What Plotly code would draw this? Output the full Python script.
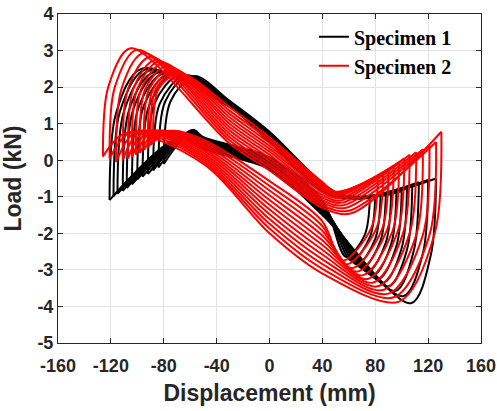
import plotly.graph_objects as go

# ---------------- Specimen 1 (black) : key points of each loop ----------------
s1_tipneg_x = [-121, -118, -115, -111, -108, -104, -100, -96, -92, -88, -84, -80]
s1_tipneg_y = [-1.09, -0.98, -0.92, -0.84, -0.76, -0.66, -0.52, -0.45, -0.38, -0.28, -0.20, -0.10]
s1_rise_x = [-116, -113, -110, -106, -103, -99, -95, -91, -87, -83, -79, -75]
s1_rise_y = [1.30, 1.35, 1.35, 1.40, 1.40, 1.45, 1.50, 1.50, 1.55, 1.55, 1.60, 1.60]
s1_peak_x = [-97, -94, -91, -87, -84, -80, -76, -72, -68, -64, -61, -57]
s1_peak_y = [2.50, 2.48, 2.45, 2.42, 2.40, 2.38, 2.36, 2.35, 2.33, 2.32, 2.31, 2.30]
s1_up_m30 = [1.45, 1.47, 1.49, 1.50, 1.52, 1.53, 1.55, 1.56, 1.58, 1.59, 1.60, 1.62]
s1_up_0 = [0.50, 0.52, 0.55, 0.57, 0.60, 0.62, 0.65, 0.67, 0.70, 0.72, 0.75, 0.78]
s1_up_40 = [-0.85, -0.83, -0.81, -0.79, -0.77, -0.75, -0.73, -0.71, -0.69, -0.67, -0.65, -0.63]
s1_val_x = [70, 68, 66, 64, 62, 60, 60, 58, 57, 56, 55, 55]
s1_val_y = [-1.05, -1.05, -1.04, -1.03, -1.02, -1.01, -1.00, -0.99, -0.98, -0.97, -0.96, -0.95]
s1_tippos_x = [126, 120, 113, 108, 104, 100, 96, 92, 88, 84, 80, 76]
s1_tippos_y = [-0.50, -0.54, -0.60, -0.70, -0.78, -0.85, -0.90, -0.93, -0.96, -0.98, -1.00, -1.00]
s1_drop_x = [122, 116, 109, 104, 100, 96, 92, 88, 84, 80, 76, 72]
s1_drop_y = [-2.60, -2.55, -2.50, -2.45, -2.40, -2.35, -2.30, -2.25, -2.20, -2.15, -2.10, -2.05]
s1_min_x = [107, 101, 95, 90, 86, 82, 78, 74, 70, 66, 62, 58]
s1_min_y = [-3.91, -3.72, -3.58, -3.45, -3.35, -3.25, -3.15, -3.05, -2.95, -2.85, -2.75, -2.65]
s1_lo_40 = [-1.50, -1.46, -1.43, -1.39, -1.36, -1.32, -1.29, -1.25, -1.22, -1.18, -1.15, -1.10]
s1_lo_0 = [-0.25, -0.22, -0.19, -0.16, -0.13, -0.10, -0.07, -0.04, -0.01, 0.02, 0.05, 0.08]
s1_lo_m50 = [0.30, 0.33, 0.36, 0.39, 0.42, 0.45, 0.48, 0.51, 0.54, 0.57, 0.60, 0.63]
s1_hump_x = [-68, -67, -66, -65, -64, -63, -62, -61, -60, -60, -59, -58]
s1_hump_y = [0.62, 0.64, 0.66, 0.68, 0.70, 0.72, 0.74, 0.76, 0.78, 0.80, 0.82, 0.83]

# ---------------- Specimen 2 (red) : key points of each loop ----------------
s2_tipneg_x = [-126, -121, -116, -111, -107, -104, -101, -98, -95, -92, -90, -88]
s2_tipneg_y = [0.10, 0.05, -0.05, 0.00, 0.05, 0.10, 0.15, 0.20, 0.28, 0.35, 0.42, 0.50]
s2_rise_x = [-122, -117, -112, -107, -103, -100, -97, -94, -91, -88, -86, -84]
s2_rise_y = [2.00, 2.00, 1.95, 1.95, 1.95, 1.95, 1.95, 1.95, 1.95, 1.95, 1.95, 1.95]
s2_peak_x = [-105, -100, -95, -90, -86, -83, -80, -77, -74, -72, -70, -68]
s2_peak_y = [3.06, 3.02, 2.93, 2.83, 2.74, 2.70, 2.65, 2.58, 2.52, 2.47, 2.42, 2.38]
s2_up_m30 = [0.45, 0.54, 0.63, 0.72, 0.81, 0.90, 0.99, 1.08, 1.17, 1.26, 1.35, 1.45]
s2_up_0 = [-0.28, -0.19, -0.11, -0.02, 0.06, 0.15, 0.23, 0.31, 0.39, 0.47, 0.55, 0.63]
s2_up_40 = [-1.30, -1.23, -1.16, -1.09, -1.02, -0.95, -0.88, -0.81, -0.75, -0.70, -0.65, -0.60]
s2_val_x = [62, 60, 58, 56, 55, 54, 53, 52, 51, 50, 50, 50]
s2_val_y = [-1.45, -1.38, -1.30, -1.23, -1.16, -1.10, -1.04, -0.98, -0.94, -0.90, -0.88, -0.86]
s2_tippos_x = [130, 126, 121, 116, 111, 106, 102, 98, 94, 90, 86, 82]
s2_tippos_y = [0.78, 0.50, 0.40, 0.30, 0.22, 0.15, 0.05, -0.05, -0.15, -0.25, -0.35, -0.45]
s2_drop_x = [125, 121, 116, 111, 106, 101, 97, 93, 89, 85, 81, 77]
s2_drop_y = [-2.00, -2.05, -2.05, -2.05, -2.00, -2.00, -1.95, -1.95, -1.90, -1.90, -1.85, -1.85]
s2_min_x = [98, 94, 90, 86, 82, 78, 74, 70, 66, 62, 58, 55]
s2_min_y = [-3.87, -3.75, -3.65, -3.55, -3.45, -3.35, -3.25, -3.15, -3.05, -2.95, -2.85, -2.75]
s2_lo_40 = [-3.10, -2.97, -2.84, -2.71, -2.58, -2.45, -2.32, -2.19, -2.06, -1.93, -1.80, -1.67]
s2_lo_0 = [-2.00, -1.87, -1.74, -1.61, -1.48, -1.35, -1.22, -1.09, -0.96, -0.83, -0.70, -0.57]
s2_lo_m50 = [-0.10, -0.04, 0.02, 0.08, 0.14, 0.20, 0.26, 0.32, 0.38, 0.44, 0.50, 0.56]
s2_hump_x = [-108, -104, -100, -97, -94, -91, -88, -85, -82, -79, -76, -74]
s2_hump_y = [0.75, 0.78, 0.80, 0.80, 0.80, 0.80, 0.80, 0.80, 0.80, 0.80, 0.80, 0.80]

# displacements at which the branch loads above were read
x_m30, x_0, x_40, x_m50 = -30, 0, 40, -50

x_ticks = [-160, -120, -80, -40, 0, 40, 80, 120, 160]
y_ticks = [4, 3, 2, 1, 0, -1, -2, -3, -4, -5]


def build(nx, ny, rx, ry, px, py, um30, u0, u40, vx, vy, tx, ty,
          dx, dy, mx, my, l40, l0, lm50, hx, hy):
    xs, ys = [], []
    for i in range(len(nx)):
        # loading branch (displacement increasing)
        xs += [nx[i], rx[i], px[i], x_m30, x_0, x_40, vx[i], tx[i], None]
        ys += [ny[i], ry[i], py[i], um30[i], u0[i], u40[i], vy[i], ty[i], None]
        # unloading branch (displacement decreasing)
        xs += [tx[i], dx[i], mx[i], x_40, x_0, x_m50, hx[i], nx[i], None]
        ys += [ty[i], dy[i], my[i], l40[i], l0[i], lm50[i], hy[i], ny[i], None]
    return xs, ys


x1, y1 = build(s1_tipneg_x, s1_tipneg_y, s1_rise_x, s1_rise_y, s1_peak_x, s1_peak_y,
               s1_up_m30, s1_up_0, s1_up_40, s1_val_x, s1_val_y, s1_tippos_x, s1_tippos_y,
               s1_drop_x, s1_drop_y, s1_min_x, s1_min_y, s1_lo_40, s1_lo_0, s1_lo_m50,
               s1_hump_x, s1_hump_y)
x2, y2 = build(s2_tipneg_x, s2_tipneg_y, s2_rise_x, s2_rise_y, s2_peak_x, s2_peak_y,
               s2_up_m30, s2_up_0, s2_up_40, s2_val_x, s2_val_y, s2_tippos_x, s2_tippos_y,
               s2_drop_x, s2_drop_y, s2_min_x, s2_min_y, s2_lo_40, s2_lo_0, s2_lo_m50,
               s2_hump_x, s2_hump_y)

fig = go.Figure()
fig.add_trace(go.Scatter(x=x1, y=y1, mode="lines", name="<b>Specimen 1</b>",
                         line=dict(color="#000000", width=2, shape="spline", smoothing=0.9),
                         connectgaps=False))
fig.add_trace(go.Scatter(x=x2, y=y2, mode="lines", name="<b>Specimen 2</b>",
                         line=dict(color="#ff0000", width=2, shape="spline", smoothing=0.9),
                         connectgaps=False))

FONT = "Liberation Sans, Arial, sans-serif"
axis_common = dict(
    showgrid=True, gridcolor="#e3e3e3", gridwidth=1,
    showline=True, linecolor="#262626", linewidth=1, mirror="ticks",
    ticks="inside", ticklen=5, tickcolor="#262626",
    zeroline=False, automargin=False,
    tickfont=dict(family=FONT, size=18, color="#262626"),
)

fig.update_layout(
    width=497, height=411,
    margin=dict(l=58, r=16, t=14, b=68),
    paper_bgcolor="white", plot_bgcolor="white",
    font=dict(family=FONT, color="#262626"),
    xaxis=dict(range=[-160, 160], tickvals=x_ticks,
               ticktext=["<b>%d</b>" % v for v in x_ticks],
               ticklabelstandoff=6,
               title=dict(text="<b>Displacement (mm)</b>",
                          font=dict(size=23, family=FONT),
                          standoff=10),
               **axis_common),
    yaxis=dict(range=[-5, 4], tickvals=y_ticks,
               ticktext=["<b>%d</b>" % v for v in y_ticks],
               title=dict(text="<b>Load (kN)</b>",
                          font=dict(size=23, family=FONT),
                          standoff=10),
               **axis_common),
    legend=dict(x=0.605, y=0.99, xanchor="left", yanchor="top",
                bgcolor="rgba(0,0,0,0)", borderwidth=0,
                font=dict(family="Liberation Serif, Times New Roman, serif", size=20, color="#000000"),
                tracegroupgap=0, itemwidth=30),
    showlegend=True,
)

fig.write_html("out.html",
               config={"displayModeBar": False},
               post_script="document.body.style.margin='0';document.body.style.overflow='hidden';")
